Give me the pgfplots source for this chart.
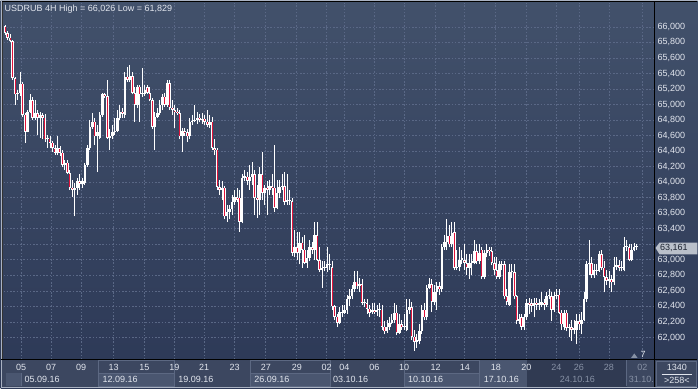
\documentclass[border=0pt]{standalone}
\usepackage{pgfplots}
\pgfplotsset{compat=1.18}
\usepackage{pgfplotstable}
\usepackage{fontspec}
\setmainfont{Liberation Sans}
\definecolor{bgtop}{RGB}{66,81,107}
\definecolor{bgbot}{RGB}{44,56,86}
\definecolor{gridc}{RGB}{90,104,134}
\definecolor{txt}{RGB}{226,230,238}
\definecolor{dimtxt}{RGB}{135,145,165}
\definecolor{panel}{RGB}{60,71,96}
\definecolor{panelhi}{RGB}{74,86,112}
\definecolor{paneldark}{RGB}{48,58,82}
\definecolor{boxedge}{RGB}{92,104,130}
\definecolor{candlered}{RGB}{226,18,58}
\definecolor{edge}{RGB}{170,178,194}
\definecolor{pricebox}{RGB}{186,192,202}
\definecolor{pricetxt}{RGB}{27,34,48}

\pgfplotstableread{
o c h l
66.01 65.92 66.03 65.90
65.92 65.86 65.95 65.83
65.86 65.82 65.91 65.81
65.82 65.34 65.83 65.32
65.34 65.13 65.36 65.00
65.13 65.15 65.19 65.06
65.15 65.27 65.42 65.11
65.27 64.87 65.29 64.84
64.87 64.65 64.89 64.51
64.65 64.91 64.93 64.64
64.91 65.06 65.13 64.89
65.06 64.83 65.10 64.80
64.83 64.89 65.06 64.80
64.89 64.83 64.93 64.61
64.83 64.86 64.91 64.57
64.86 64.83 64.89 64.55
64.83 64.55 64.88 64.52
64.55 64.56 64.61 64.44
64.56 64.51 64.60 64.44
64.51 64.44 64.53 64.39
64.44 64.38 64.48 64.35
64.38 64.44 64.59 64.35
64.44 64.38 64.47 64.34
64.38 64.22 64.42 64.19
64.22 64.25 64.29 64.16
64.25 64.12 64.28 64.10
64.12 63.93 64.16 63.90
63.93 63.90 64.03 63.81
63.90 63.93 63.99 63.56
63.93 64.01 64.06 63.84
64.01 63.98 64.10 63.90
63.98 64.01 64.06 63.93
63.99 64.22 64.25 63.97
64.22 64.44 64.48 64.20
64.44 64.71 64.80 64.42
64.71 64.78 64.89 64.68
64.78 64.59 64.83 64.48
64.59 64.64 64.74 64.13
64.57 64.87 64.91 64.55
64.87 65.13 65.15 64.84
65.13 65.11 65.15 65.09
65.11 64.57 65.32 64.55
64.57 64.59 64.68 64.42
64.59 64.65 64.74 64.56
64.65 64.66 64.83 64.61
64.66 64.83 64.93 64.64
64.83 64.91 65.00 64.80
64.91 64.88 64.96 64.83
64.87 65.36 65.42 64.83
65.36 65.32 65.49 65.29
65.32 65.37 65.51 65.29
65.37 65.15 65.42 65.13
65.15 65.00 65.22 64.78
65.00 65.23 65.25 64.96
65.23 65.13 65.25 64.78
65.13 65.14 65.47 65.10
65.14 65.19 65.25 65.11
65.22 65.15 65.25 65.13
65.15 65.06 65.22 65.04
65.06 64.71 65.09 64.68
64.71 64.84 64.91 64.42
64.84 64.89 64.96 64.83
64.89 65.00 65.06 64.87
65.00 65.10 65.13 64.93
65.10 65.00 65.15 64.97
65.00 65.28 65.32 64.97
65.28 64.96 65.32 64.93
64.96 64.93 65.06 64.87
64.93 64.91 65.00 64.70
64.91 64.89 64.96 64.87
64.89 64.59 64.93 64.55
64.59 64.66 64.70 64.39
64.66 64.64 64.70 64.60
64.64 64.59 64.68 64.52
64.59 64.78 64.83 64.56
64.78 64.79 64.87 64.74
64.79 64.80 65.00 64.77
64.80 64.83 64.91 64.75
64.83 64.80 64.88 64.77
64.80 64.82 64.89 64.75
64.82 64.78 64.87 64.74
64.78 64.74 64.93 64.71
64.74 64.78 64.87 64.70
64.78 64.44 64.84 64.42
64.44 64.42 64.55 64.35
64.42 63.94 64.44 63.90
63.94 63.90 64.03 63.84
63.90 63.93 64.01 63.77
63.93 63.56 63.95 63.52
63.56 63.62 63.71 63.49
63.62 63.65 63.71 63.52
63.65 63.75 63.84 63.58
63.75 63.81 63.90 63.71
63.81 63.77 63.93 63.74
63.80 63.49 63.90 63.36
63.49 64.06 64.10 63.47
64.06 64.07 64.16 64.01
64.07 64.02 64.13 63.97
64.02 64.07 64.22 63.90
64.07 64.10 64.26 63.97
64.10 63.80 64.16 63.58
63.80 63.77 63.97 63.54
63.77 64.10 64.19 63.58
64.10 63.86 64.39 63.77
63.86 63.93 63.97 63.71
63.93 63.90 64.01 63.58
63.90 63.95 64.03 63.84
63.95 63.93 64.10 63.84
63.93 63.67 64.48 63.62
63.67 63.86 64.03 63.65
63.86 63.94 64.03 63.80
63.94 63.95 64.10 63.90
63.95 63.75 64.13 63.71
63.75 63.77 64.10 63.71
63.77 63.76 63.90 63.71
63.76 63.09 63.80 63.05
63.09 63.16 63.39 63.03
63.16 63.09 63.36 63.00
63.09 63.22 63.36 62.94
63.22 63.13 63.29 62.90
63.13 62.96 63.32 62.94
62.96 63.02 63.13 62.90
63.02 63.16 63.26 62.98
63.16 63.13 63.23 63.07
63.13 63.32 63.49 63.00
63.32 63.00 63.49 62.98
63.00 62.87 63.16 62.84
62.87 62.89 62.98 62.64
62.89 62.90 62.98 62.85
62.90 62.94 63.16 62.84
62.94 62.93 63.07 62.87
62.91 62.40 62.98 62.36
62.40 62.27 62.42 62.23
62.27 62.19 62.30 62.14
62.19 62.33 62.39 62.17
62.33 62.32 62.42 62.26
62.32 62.35 62.42 62.30
62.35 62.49 62.55 62.30
62.49 62.53 62.62 62.40
62.53 62.62 62.68 62.49
62.62 62.72 62.85 62.59
62.72 62.66 62.85 62.62
62.66 62.69 62.77 62.59
62.69 62.45 62.75 62.42
62.45 62.44 62.49 62.39
62.44 62.37 62.49 62.30
62.37 62.32 62.42 62.26
62.33 62.35 62.45 62.30
62.35 62.33 62.45 62.30
62.33 62.36 62.42 62.28
62.36 62.35 62.44 62.26
62.36 62.14 62.42 62.10
62.14 62.08 62.21 62.04
62.08 62.13 62.23 62.06
62.13 62.18 62.26 62.10
62.18 62.23 62.30 62.17
62.23 62.32 62.45 62.19
62.32 62.06 62.42 62.03
62.06 62.17 62.30 62.04
62.17 62.13 62.23 62.10
62.13 62.14 62.30 62.10
62.10 62.36 62.49 62.08
62.36 62.39 62.49 62.30
62.39 62.01 62.46 61.97
62.01 61.94 62.10 61.83
61.94 61.97 62.04 61.87
61.95 62.08 62.17 61.91
62.08 62.36 62.42 62.04
62.36 62.26 62.45 62.23
62.26 62.64 62.68 62.23
62.64 62.69 62.77 62.62
62.69 62.46 62.75 62.33
62.46 62.59 62.68 62.42
62.59 62.66 62.71 62.36
62.66 62.62 62.72 62.55
62.62 63.16 63.20 62.59
63.16 63.23 63.32 63.13
63.23 63.31 63.52 63.13
63.31 63.20 63.45 63.16
63.20 63.34 63.49 63.17
63.36 62.90 63.49 62.87
62.90 62.91 63.13 62.87
62.91 63.00 63.16 62.85
63.00 63.02 63.13 62.94
63.00 62.96 63.20 62.87
62.96 62.90 63.07 62.81
62.90 62.96 63.07 62.75
62.96 62.98 63.07 62.81
62.96 63.11 63.26 62.94
63.11 62.98 63.20 62.94
62.98 63.09 63.20 62.94
63.13 62.78 63.16 62.75
62.78 63.09 63.13 62.75
63.09 63.13 63.20 63.03
63.13 63.11 63.17 63.05
63.11 62.96 63.16 62.93
62.96 62.87 63.03 62.80
62.87 62.78 63.03 62.75
62.78 62.94 62.98 62.75
62.94 62.93 62.98 62.87
62.94 62.53 62.98 62.49
62.53 62.46 62.62 62.42
62.42 62.84 62.94 62.40
62.84 62.85 62.94 62.77
62.84 62.53 62.94 62.49
62.53 62.21 62.55 62.17
62.21 62.24 62.30 62.17
62.26 62.14 62.30 62.10
62.14 62.26 62.30 62.10
62.26 62.45 62.49 62.23
62.45 62.42 62.51 62.30
62.44 62.41 62.49 62.33
62.41 62.45 62.51 62.26
62.45 62.42 62.51 62.36
62.42 62.44 62.49 62.36
62.42 62.46 62.58 62.39
62.45 62.42 62.49 62.36
62.42 62.53 62.59 62.39
62.53 62.54 62.62 62.49
62.53 62.36 62.59 62.21
62.36 62.53 62.59 62.33
62.53 62.55 62.62 62.49
62.55 62.32 62.62 62.30
62.32 62.17 62.36 62.10
62.13 62.32 62.36 62.10
62.32 62.12 62.36 62.08
62.12 62.13 62.17 62.00
62.13 62.10 62.23 61.96
62.10 62.12 62.23 62.04
62.10 62.21 62.30 61.91
62.21 62.17 62.30 62.10
62.17 62.23 62.33 62.04
62.23 62.49 62.58 62.21
62.49 62.94 62.98 62.46
62.94 62.96 63.26 62.81
62.96 62.81 63.03 62.77
62.81 62.87 62.94 62.77
62.87 62.86 62.94 62.81
62.86 63.07 63.11 62.84
63.07 62.90 63.13 62.87
62.90 62.78 62.98 62.58
62.78 62.73 62.87 62.68
62.73 62.75 62.85 62.64
62.75 62.71 62.81 62.59
62.71 62.91 63.04 62.68
62.91 62.93 63.04 62.87
62.93 62.90 63.00 62.85
62.90 62.89 62.98 62.85
62.87 63.16 63.30 62.85
63.16 63.17 63.26 63.11
63.16 63.00 63.20 62.98
63.00 63.13 63.20 62.98
63.13 63.17 63.22 63.11
63.17 63.16 63.21 63.13
}\candles

\begin{document}
\begin{tikzpicture}[x=1bp, y=1bp, font=\fontsize{9bp}{11bp}\selectfont]
% background
\shade[top color=bgtop, bottom color=bgbot] (0,0) rectangle (698,389);
% bottom date panel
\fill[panel] (0,0) rectangle (698,29);
\fill[panelhi] (480,1.5) rectangle (527,28);
\fill[paneldark] (527,1.5) rectangle (627,28);
\fill[panelhi] (5,2) rectangle (21,15);
\foreach \a/\b in {98/174, 250/330, 404/480}{
  \fill[panelhi] (\a,2) rectangle (\b,15);
  \draw[boxedge, line width=0.8bp] (\a,2) rectangle (\b,28);
  \draw[boxedge, line width=0.8bp] (\a,15) -- (\b,15);
}
\draw[boxedge, line width=0.8bp] (21,2) -- (21,15);
\draw[boxedge, line width=0.8bp] (627,2) -- (627,28);

\begin{axis}[
  at={(3bp,29bp)}, anchor=south west,
  scale only axis, width=652bp, height=357bp,
  xmin=-0.6, xmax=260.2, ymin=61.717, ymax=66.308,
  axis line style={draw=none},
  major tick length=0pt,
  grid=major,
  major grid style={gridc, dash pattern=on 1.5bp off 1.8bp, line width=0.7bp},
  xtick={6.48,18.48,30.48,43.52,55.8,67.8,79.8,92,104.48,116.88,128.88,135.92,147.92,159.92,172.48,184.2,196.6,208.88,220.88,229.92,241.92,255.28},
  xticklabels={05,07,09,13,15,19,21,23,27,29,02,04,06,10,12,14,18,20,\textcolor{dimtxt}{24},\textcolor{dimtxt}{26},\textcolor{dimtxt}{28},\textcolor{dimtxt}{02}},
  ytick={62,62.2,62.4,62.6,62.8,63,63.2,63.4,63.6,63.8,64,64.2,64.4,64.6,64.8,65,65.2,65.4,65.6,65.8,66},
  yticklabels={{62,000},{62,200},{62,400},{62,600},{62,800},{63,000},{},{63,400},{63,600},{63,800},{64,000},{64,200},{64,400},{64,600},{64,800},{65,000},{65,200},{65,400},{65,600},{65,800},{66,000}},
  yticklabel pos=right,
  yticklabel style={anchor=west, inner sep=0pt, xshift=3bp, text=txt},
  xticklabel style={anchor=north, inner sep=0pt, yshift=-5bp, text=txt},
]
% wicks
\addplot[draw=none, forget plot, error bars/.cd, y dir=plus, y explicit, error mark=none,
  error bar style={draw=white, line width=0.9bp}]
  table[x expr=\coordindex, y=l, y error plus expr={\thisrow{h}-\thisrow{l}}] {\candles};
% bodies
\addplot[draw=none, forget plot, error bars/.cd, y dir=plus, y explicit, error mark=none,
  error bar style={draw=white, line width=2.5bp}]
  table[x expr=\coordindex, y expr={min(\thisrow{o},\thisrow{c})}, y error plus expr={max(abs(\thisrow{o}-\thisrow{c}),0.014)}] {\candles};
% red fill of falling candles
\addplot[draw=none, forget plot, error bars/.cd, y dir=plus, y explicit, error mark=none,
  error bar style={draw=candlered, line width=1.0bp}]
  table[x expr=\coordindex, y expr={\thisrow{c}+0.009}, y error plus expr={max(\thisrow{o}-\thisrow{c}-0.018,0)}] {\candles};
\end{axis}

% frame lines
\fill[edge] (0,387.7) rectangle (698,389);
\draw[black, line width=0.7bp] (0,387.2) -- (698,387.2);
\fill[edge] (0,0) rectangle (1.3,389);
\draw[black!80, line width=0.6bp] (2.2,29) -- (2.2,387);
\draw[black, line width=1bp] (655.3,0) -- (655.3,387.5);
\draw[black, line width=1.1bp] (0,28.8) -- (698,28.8);
\fill[edge] (0,0) rectangle (698,1.2);

% title
\node[anchor=base west, inner sep=0pt, text=txt] at (4,377.5) {USDRUB 4H High = 66,026 Low = 61,829};

% week labels
\foreach \x/\t in {24/05.09.16, 102/12.09.16, 178/19.09.16, 254/26.09.16, 333/03.10.16, 408/10.10.16, 484/17.10.16}
  \node[anchor=base west, inner sep=0pt, text=txt] at (\x,5.5) {\t};
\node[anchor=base west, inner sep=0pt, text=dimtxt] at (560,5.5) {24.10.16};
\node[anchor=base west, inner sep=0pt, text=dimtxt] at (629,5.5) {31.10.};

% current price marker
\fill[pricebox] (656,140.7) -- (660,146) -- (698,146) -- (698,134.3) -- (660,134.3) -- cycle;
\node[anchor=west, inner sep=0pt, text=pricetxt] at (660.5,140.3) {63,161};

% bar counter marker
\fill[dimtxt] (631.5,30.5) -- (638,30.5) -- (634.75,35) -- cycle;
\node[anchor=base west, inner sep=0pt, text=txt] at (641,30.5) {7};

% bottom right box
\draw[boxedge, line width=0.8bp] (657,2) rectangle (697,27.5);
\node[text=txt, inner sep=0pt] at (677.5,21) {1340};
\draw[txt, line width=0.6bp] (662,14.3) -- (693,14.3);
\node[text=txt, inner sep=0pt] at (677.5,8) {>258<};
\useasboundingbox (0,0) rectangle (698,389);
\end{tikzpicture}
\end{document}
